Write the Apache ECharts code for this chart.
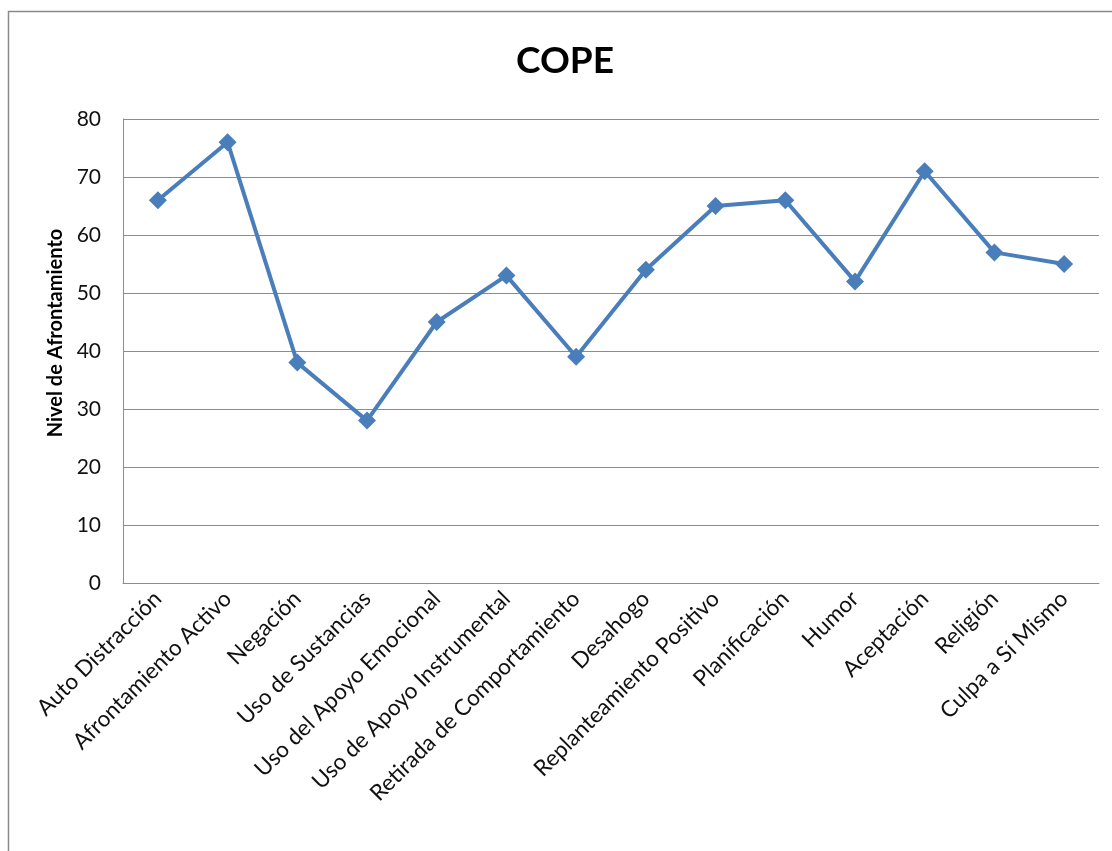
<!DOCTYPE html>
<html>
<head>
<meta charset="utf-8">
<script src="https://cdn.jsdelivr.net/npm/echarts@6/dist/echarts.min.js"></script>
<style>
  html, body { margin: 0; padding: 0; background: #fff; }
  #chart { width: 1112px; height: 851px; }
</style>
</head>
<body>
<div id="chart"></div>
<script>
// Coping strategies (COPE scale) and their average coping level
const categories = [
  'Auto Distracción', 'Afrontamiento Activo', 'Negación', 'Uso de Sustancias',
  'Uso del Apoyo Emocional', 'Uso de Apoyo Instrumental', 'Retirada de Comportamiento',
  'Desahogo', 'Replanteamiento Positivo', 'Planificación', 'Humor', 'Aceptación',
  'Religión', 'Culpa a Sí Mismo'
];
const nivel = [66, 76, 38, 28, 45, 53, 39, 54, 65, 66, 52, 71, 57, 55];
const yTicks = { min: 0, max: 80, interval: 10 };
const yTitle = 'Nivel de Afrontamiento';

const FONT = 'Lato, "Open Sans", sans-serif';
const lineColor = '#4A7EBB';
const gridColor = '#8c8c8c';

const chart = echarts.init(document.getElementById('chart'), null, { renderer: 'canvas' });
chart.setOption({
  backgroundColor: '#ffffff',
  animation: false,
  title: {
    text: 'COPE',
    left: 560,
    top: 38,
    textAlign: 'center',
    textStyle: { fontFamily: FONT, fontWeight: 'bold', fontSize: 37, color: '#000' }
  },
  graphic: [
    {
      type: 'rect',
      shape: { x: 8.5, y: 11.5, width: 1300, height: 1000 },
      style: { fill: 'none', stroke: '#8a8a8a', lineWidth: 1.5 },
      silent: true
    },
    {
      // vertical axis title
      type: 'text',
      x: 56,
      y: 333,
      rotation: Math.PI / 2,
      style: {
        text: yTitle,
        fontFamily: FONT,
        fontWeight: 'bold',
        fontSize: 20,
        fill: '#000',
        align: 'center',
        verticalAlign: 'middle'
      },
      silent: true
    }
  ],
  grid: { left: 123, right: 13, top: 119, bottom: 268, containLabel: false },
  xAxis: {
    type: 'category',
    data: categories,
    boundaryGap: true,
    axisLine: { show: true, lineStyle: { color: gridColor, width: 1 } },
    axisTick: { show: false },
    axisLabel: {
      interval: 0,
      rotate: 45,
      margin: 12,
      fontFamily: FONT,
      fontSize: 22.5,
      color: '#111'
    }
  },
  yAxis: {
    type: 'value',
    min: yTicks.min,
    max: yTicks.max,
    interval: yTicks.interval,
    axisLine: { show: true, lineStyle: { color: gridColor, width: 1 } },
    axisTick: { show: false },
    axisLabel: { fontFamily: FONT, fontSize: 21, color: '#111', margin: 22 },
    splitLine: { show: true, lineStyle: { color: gridColor, width: 1 } }
  },
  series: [{
    type: 'line',
    data: nivel,
    symbol: 'diamond',
    symbolSize: 18,
    showSymbol: true,
    lineStyle: { color: lineColor, width: 4 },
    itemStyle: { color: lineColor },
    emphasis: { disabled: true }
  }]
});
</script>
</body>
</html>
